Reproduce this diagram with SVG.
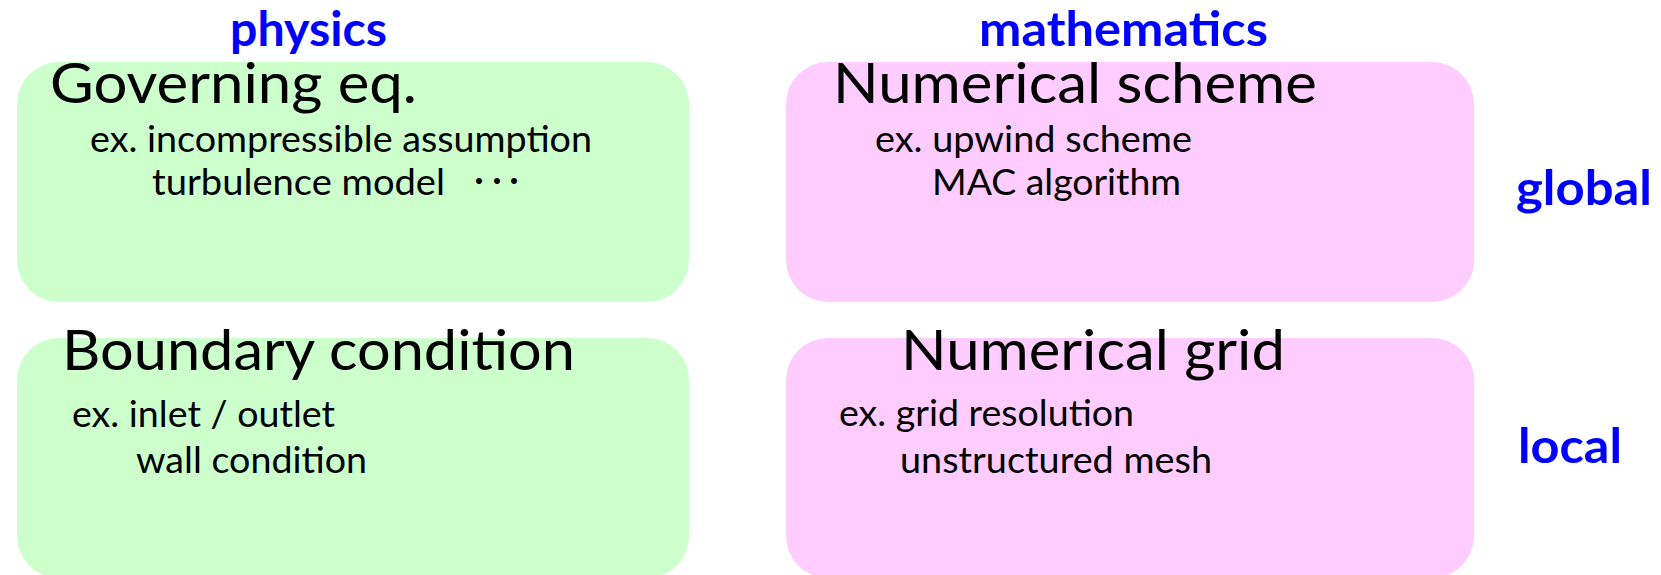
<svg xmlns="http://www.w3.org/2000/svg" width="1661" height="575" viewBox="0 0 1661 575">
<style>
.phys{fill:#CCFFCC}
.math{fill:#FFCCFF}
.lbl{font-family:Lato,"Open Sans","Liberation Sans",sans-serif;font-weight:bold;font-size:47px;fill:#0000FF}
.ttl{font-family:Lato,"Open Sans","Liberation Sans",sans-serif;font-size:57px;fill:#000}
.sub{font-family:Lato,"Open Sans","Liberation Sans",sans-serif;font-size:37px;fill:#000}
.dots{font-family:"Noto Sans CJK JP",sans-serif;font-size:28px;fill:#000}
</style>
<rect width="1661" height="575" fill="#FFFFFF"/>
<g id="labels">
<text class="lbl" x="230" y="46" textLength="157" lengthAdjust="spacingAndGlyphs">physics</text>
<text class="lbl" x="979" y="46" textLength="289" lengthAdjust="spacingAndGlyphs">mathematics</text>
<text class="lbl" x="1516" y="205" textLength="136" lengthAdjust="spacingAndGlyphs">global</text>
<text class="lbl" x="1518" y="463" textLength="104" lengthAdjust="spacingAndGlyphs">local</text>
</g>
<g id="governing">
<rect class="phys" x="17" y="62" width="672" height="240" rx="42" ry="42"/>
<text class="ttl" x="50" y="103" textLength="367" lengthAdjust="spacingAndGlyphs">Governing eq.</text>
<text class="sub" x="90" y="152" textLength="502" lengthAdjust="spacingAndGlyphs">ex. incompressible assumption</text>
<text class="sub" x="152" y="195" textLength="293" lengthAdjust="spacingAndGlyphs">turbulence model</text>
<text class="dots" x="465 483 500" y="192">・・・</text>
</g>
<g id="scheme">
<rect class="math" x="786" y="62" width="688" height="240" rx="42" ry="42"/>
<text class="ttl" x="833" y="103" textLength="484" lengthAdjust="spacingAndGlyphs">Numerical scheme</text>
<text class="sub" x="875" y="152" textLength="317" lengthAdjust="spacingAndGlyphs">ex. upwind scheme</text>
<text class="sub" x="932" y="195" textLength="249" lengthAdjust="spacingAndGlyphs">MAC algorithm</text>
</g>
<g id="boundary">
<rect class="phys" x="17" y="338" width="672" height="240" rx="42" ry="42"/>
<text class="ttl" x="62" y="370" textLength="513" lengthAdjust="spacingAndGlyphs">Boundary condition</text>
<text class="sub" x="72" y="427" textLength="263" lengthAdjust="spacingAndGlyphs">ex. inlet / outlet</text>
<text class="sub" x="136" y="473" textLength="231" lengthAdjust="spacingAndGlyphs">wall condition</text>
</g>
<g id="grid">
<rect class="math" x="786" y="338" width="688" height="240" rx="42" ry="42"/>
<text class="ttl" x="901" y="370" textLength="384" lengthAdjust="spacingAndGlyphs">Numerical grid</text>
<text class="sub" x="839" y="426" textLength="295" lengthAdjust="spacingAndGlyphs">ex. grid resolution</text>
<text class="sub" x="900" y="473" textLength="312" lengthAdjust="spacingAndGlyphs">unstructured mesh</text>
</g>
<g id="connectors"/>
</svg>
